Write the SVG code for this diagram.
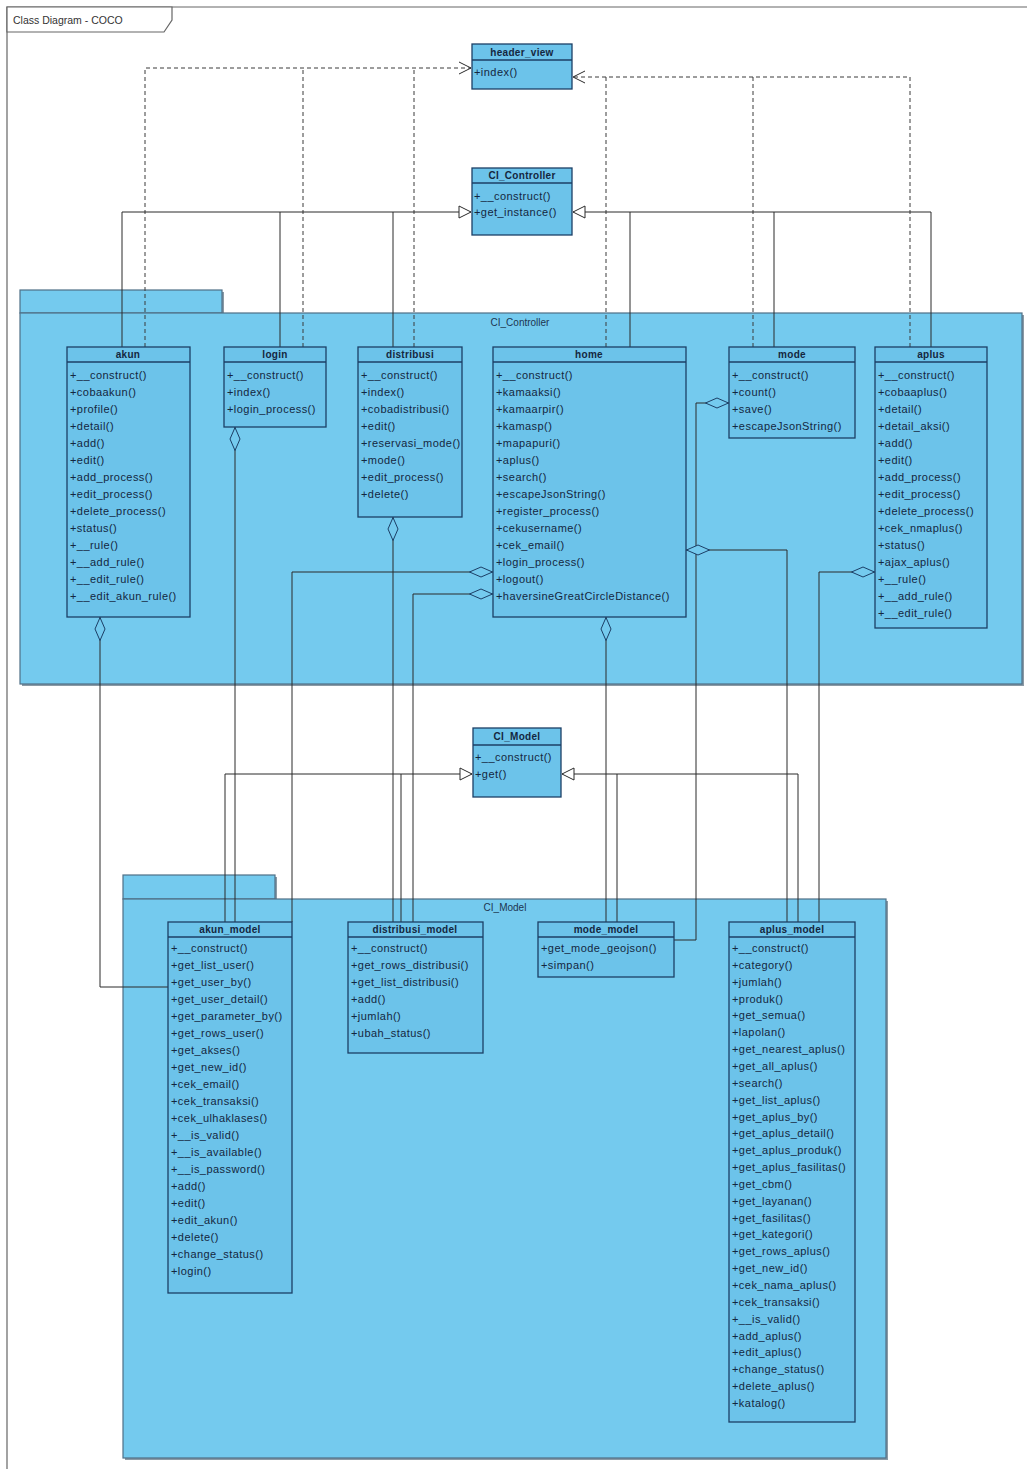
<svg xmlns="http://www.w3.org/2000/svg" width="1027" height="1469" viewBox="0 0 1027 1469">
<style>
  .pkg{fill:#74caee;stroke:#4f6f86;stroke-width:1.2}
  .pkgl{font-family:"Liberation Sans",Arial,sans-serif;font-size:10px;fill:#1d3550;text-anchor:middle}
  .cls{fill:#6cc3ea;stroke:#1c3f66;stroke-width:1.3}
  .sep{stroke:#1c3f66;stroke-width:1.3}
  .t{font-family:"Liberation Sans",Arial,sans-serif;font-size:10px;font-weight:bold;fill:#14273f;text-anchor:middle;letter-spacing:0.3px}
  .m{font-family:"Liberation Sans",Arial,sans-serif;font-size:11px;fill:#14273f;letter-spacing:0.45px}
  .c{fill:none;stroke:#2a2a2a;stroke-width:1}
  .d{fill:none;stroke:#3a3a3a;stroke-width:1;stroke-dasharray:4 3}
  .frame{fill:none;stroke:#666;stroke-width:1.2}
</style>
<defs>
  <marker id="gen" markerUnits="userSpaceOnUse" markerWidth="14" markerHeight="14" refX="13" refY="7" orient="auto">
    <path d="M1,1 L13,7 L1,13 Z" fill="#fff" stroke="#2a2a2a" stroke-width="1"/>
  </marker>
  <marker id="dep" markerUnits="userSpaceOnUse" markerWidth="14" markerHeight="14" refX="13" refY="7" orient="auto">
    <path d="M1,1 L13,7 L1,13" fill="none" stroke="#2a2a2a" stroke-width="1"/>
  </marker>
  <marker id="agg" markerUnits="userSpaceOnUse" markerWidth="26" markerHeight="12" refX="0" refY="6" orient="auto">
    <path d="M0.5,6 L12,1 L23.5,6 L12,11 Z" fill="#74caee" stroke="#1c3f66" stroke-width="1"/>
  </marker>
</defs>

<rect width="1027" height="1469" fill="#ffffff"/>

<!-- diagram frame -->
<g id="frame">
  <path class="frame" d="M7,1469 V7 H1027"/>
  <path d="M7,7 H172 V20 L164,32 H7 Z" fill="#fff" stroke="#666" stroke-width="1.2"/>
  <text x="13" y="24" font-family="Liberation Sans, Arial, sans-serif" font-size="10.5" fill="#333">Class Diagram - COCO</text>
</g>

<!-- packages -->
<g id="pkg-controller">
  <rect x="22" y="292" width="202" height="23" fill="#8a9aa5"/>
  <rect x="22" y="315" width="1002" height="371" fill="#8a9aa5"/>
  <rect class="pkg" x="20" y="290" width="202" height="23"/>
  <rect class="pkg" x="20" y="313" width="1002" height="371"/>
  <text class="pkgl" x="520" y="326">CI_Controller</text>
</g>
<g id="pkg-model">
  <rect x="125" y="877" width="152" height="24" fill="#8a9aa5"/>
  <rect x="125" y="901" width="763" height="559" fill="#8a9aa5"/>
  <rect class="pkg" x="123" y="875" width="152" height="24"/>
  <rect class="pkg" x="123" y="899" width="763" height="559"/>
  <text class="pkgl" x="505" y="911">CI_Model</text>
</g>

<!-- connectors -->
<g id="connectors">
  <!-- dependencies on header_view -->
  <path class="d" d="M145,347 V68 H471" marker-end="url(#dep)"/>
  <path class="d" d="M303,347 V68"/>
  <path class="d" d="M414,347 V68"/>
  <path class="d" d="M910,347 V77 H573" marker-end="url(#dep)"/>
  <path class="d" d="M606,347 V77"/>
  <path class="d" d="M753,347 V77"/>

  <!-- controllers extend CI_Controller -->
  <path class="c" d="M122,347 V212 H471" marker-end="url(#gen)"/>
  <path class="c" d="M280,347 V212"/>
  <path class="c" d="M393,347 V212"/>
  <path class="c" d="M931,347 V212 H573" marker-end="url(#gen)"/>
  <path class="c" d="M630,347 V212"/>
  <path class="c" d="M774,347 V212"/>

  <!-- models extend CI_Model -->
  <path class="c" d="M225,922 V774 H472" marker-end="url(#gen)"/>
  <path class="c" d="M401,922 V774"/>
  <path class="c" d="M798,922 V774 H562" marker-end="url(#gen)"/>
  <path class="c" d="M617,922 V774"/>

  <!-- aggregations controller -> model -->
  <path class="c" d="M100,617 V987 H168" marker-start="url(#agg)"/>
  <path class="c" d="M235,427 V922" marker-start="url(#agg)"/>
  <path class="c" d="M393,517 V922" marker-start="url(#agg)"/>
  <path class="c" d="M606,617 V922" marker-start="url(#agg)"/>
  <path class="c" d="M493,572 H292 V922" marker-start="url(#agg)"/>
  <path class="c" d="M493,594 H413 V922" marker-start="url(#agg)"/>
  <path class="c" d="M729,403 H696 V940 H674" marker-start="url(#agg)"/>
  <path class="c" d="M686,550 H787 V922" marker-start="url(#agg)"/>
  <path class="c" d="M875,572 H819 V922" marker-start="url(#agg)"/>
</g>

<!-- top-level classes -->
<g id="header_view">
  <rect class="cls" x="472" y="44" width="100" height="45"/>
  <line class="sep" x1="472" y1="60" x2="572" y2="60"/>
  <text class="t" x="522" y="56">header_view</text>
  <text class="m" x="474" y="76">+index()</text>
</g>
<g id="CI_Controller">
  <rect class="cls" x="472" y="168" width="100" height="67"/>
  <line class="sep" x1="472" y1="183" x2="572" y2="183"/>
  <text class="t" x="522" y="179">CI_Controller</text>
  <text class="m" x="474" y="200"><tspan x="474">+__construct()</tspan><tspan x="474" dy="16">+get_instance()</tspan></text>
</g>
<g id="CI_Model">
  <rect class="cls" x="473" y="728" width="88" height="69"/>
  <line class="sep" x1="473" y1="745" x2="561" y2="745"/>
  <text class="t" x="517" y="740">CI_Model</text>
  <text class="m" x="475" y="761"><tspan x="475">+__construct()</tspan><tspan x="475" dy="17">+get()</tspan></text>
</g>

<!-- controller classes -->
<g id="akun">
  <rect class="cls" x="67" y="347" width="123" height="270"/>
  <line class="sep" x1="67" y1="362" x2="190" y2="362"/>
  <text class="t" x="128" y="358">akun</text>
  <text class="m" y="379">
    <tspan x="70">+__construct()</tspan><tspan x="70" dy="17">+cobaakun()</tspan><tspan x="70" dy="17">+profile()</tspan><tspan x="70" dy="17">+detail()</tspan><tspan x="70" dy="17">+add()</tspan><tspan x="70" dy="17">+edit()</tspan><tspan x="70" dy="17">+add_process()</tspan><tspan x="70" dy="17">+edit_process()</tspan><tspan x="70" dy="17">+delete_process()</tspan><tspan x="70" dy="17">+status()</tspan><tspan x="70" dy="17">+__rule()</tspan><tspan x="70" dy="17">+__add_rule()</tspan><tspan x="70" dy="17">+__edit_rule()</tspan><tspan x="70" dy="17">+__edit_akun_rule()</tspan>
  </text>
</g>
<g id="login">
  <rect class="cls" x="224" y="347" width="102" height="80"/>
  <line class="sep" x1="224" y1="362" x2="326" y2="362"/>
  <text class="t" x="275" y="358">login</text>
  <text class="m" y="379">
    <tspan x="227">+__construct()</tspan><tspan x="227" dy="17">+index()</tspan><tspan x="227" dy="17">+login_process()</tspan>
  </text>
</g>
<g id="distribusi">
  <rect class="cls" x="358" y="347" width="104" height="170"/>
  <line class="sep" x1="358" y1="362" x2="462" y2="362"/>
  <text class="t" x="410" y="358">distribusi</text>
  <text class="m" y="379">
    <tspan x="361">+__construct()</tspan><tspan x="361" dy="17">+index()</tspan><tspan x="361" dy="17">+cobadistribusi()</tspan><tspan x="361" dy="17">+edit()</tspan><tspan x="361" dy="17">+reservasi_mode()</tspan><tspan x="361" dy="17">+mode()</tspan><tspan x="361" dy="17">+edit_process()</tspan><tspan x="361" dy="17">+delete()</tspan>
  </text>
</g>
<g id="home">
  <rect class="cls" x="493" y="347" width="193" height="270"/>
  <line class="sep" x1="493" y1="362" x2="686" y2="362"/>
  <text class="t" x="589" y="358">home</text>
  <text class="m" y="379">
    <tspan x="496">+__construct()</tspan><tspan x="496" dy="17">+kamaaksi()</tspan><tspan x="496" dy="17">+kamaarpir()</tspan><tspan x="496" dy="17">+kamasp()</tspan><tspan x="496" dy="17">+mapapuri()</tspan><tspan x="496" dy="17">+aplus()</tspan><tspan x="496" dy="17">+search()</tspan><tspan x="496" dy="17">+escapeJsonString()</tspan><tspan x="496" dy="17">+register_process()</tspan><tspan x="496" dy="17">+cekusername()</tspan><tspan x="496" dy="17">+cek_email()</tspan><tspan x="496" dy="17">+login_process()</tspan><tspan x="496" dy="17">+logout()</tspan><tspan x="496" dy="17">+haversineGreatCircleDistance()</tspan>
  </text>
</g>
<g id="mode">
  <rect class="cls" x="729" y="347" width="126" height="91"/>
  <line class="sep" x1="729" y1="362" x2="855" y2="362"/>
  <text class="t" x="792" y="358">mode</text>
  <text class="m" y="379">
    <tspan x="732">+__construct()</tspan><tspan x="732" dy="17">+count()</tspan><tspan x="732" dy="17">+save()</tspan><tspan x="732" dy="17">+escapeJsonString()</tspan>
  </text>
</g>
<g id="aplus">
  <rect class="cls" x="875" y="347" width="112" height="281"/>
  <line class="sep" x1="875" y1="362" x2="987" y2="362"/>
  <text class="t" x="931" y="358">aplus</text>
  <text class="m" y="379">
    <tspan x="878">+__construct()</tspan><tspan x="878" dy="17">+cobaaplus()</tspan><tspan x="878" dy="17">+detail()</tspan><tspan x="878" dy="17">+detail_aksi()</tspan><tspan x="878" dy="17">+add()</tspan><tspan x="878" dy="17">+edit()</tspan><tspan x="878" dy="17">+add_process()</tspan><tspan x="878" dy="17">+edit_process()</tspan><tspan x="878" dy="17">+delete_process()</tspan><tspan x="878" dy="17">+cek_nmaplus()</tspan><tspan x="878" dy="17">+status()</tspan><tspan x="878" dy="17">+ajax_aplus()</tspan><tspan x="878" dy="17">+__rule()</tspan><tspan x="878" dy="17">+__add_rule()</tspan><tspan x="878" dy="17">+__edit_rule()</tspan>
  </text>
</g>

<!-- model classes -->
<g id="akun_model">
  <rect class="cls" x="168" y="922" width="124" height="371"/>
  <line class="sep" x1="168" y1="937" x2="292" y2="937"/>
  <text class="t" x="230" y="933">akun_model</text>
  <text class="m" y="952">
    <tspan x="171">+__construct()</tspan><tspan x="171" dy="17">+get_list_user()</tspan><tspan x="171" dy="17">+get_user_by()</tspan><tspan x="171" dy="17">+get_user_detail()</tspan><tspan x="171" dy="17">+get_parameter_by()</tspan><tspan x="171" dy="17">+get_rows_user()</tspan><tspan x="171" dy="17">+get_akses()</tspan><tspan x="171" dy="17">+get_new_id()</tspan><tspan x="171" dy="17">+cek_email()</tspan><tspan x="171" dy="17">+cek_transaksi()</tspan><tspan x="171" dy="17">+cek_ulhaklases()</tspan><tspan x="171" dy="17">+__is_valid()</tspan><tspan x="171" dy="17">+__is_available()</tspan><tspan x="171" dy="17">+__is_password()</tspan><tspan x="171" dy="17">+add()</tspan><tspan x="171" dy="17">+edit()</tspan><tspan x="171" dy="17">+edit_akun()</tspan><tspan x="171" dy="17">+delete()</tspan><tspan x="171" dy="17">+change_status()</tspan><tspan x="171" dy="17">+login()</tspan>
  </text>
</g>
<g id="distribusi_model">
  <rect class="cls" x="348" y="922" width="135" height="131"/>
  <line class="sep" x1="348" y1="937" x2="483" y2="937"/>
  <text class="t" x="415" y="933">distribusi_model</text>
  <text class="m" y="952">
    <tspan x="351">+__construct()</tspan><tspan x="351" dy="17">+get_rows_distribusi()</tspan><tspan x="351" dy="17">+get_list_distribusi()</tspan><tspan x="351" dy="17">+add()</tspan><tspan x="351" dy="17">+jumlah()</tspan><tspan x="351" dy="17">+ubah_status()</tspan>
  </text>
</g>
<g id="mode_model">
  <rect class="cls" x="538" y="922" width="136" height="55"/>
  <line class="sep" x1="538" y1="937" x2="674" y2="937"/>
  <text class="t" x="606" y="933">mode_model</text>
  <text class="m" y="952">
    <tspan x="541">+get_mode_geojson()</tspan><tspan x="541" dy="17">+simpan()</tspan>
  </text>
</g>
<g id="aplus_model">
  <rect class="cls" x="729" y="922" width="126" height="500"/>
  <line class="sep" x1="729" y1="937" x2="855" y2="937"/>
  <text class="t" x="792" y="933">aplus_model</text>
  <text class="m" y="952">
    <tspan x="732">+__construct()</tspan><tspan x="732" dy="16.85">+category()</tspan><tspan x="732" dy="16.85">+jumlah()</tspan><tspan x="732" dy="16.85">+produk()</tspan><tspan x="732" dy="16.85">+get_semua()</tspan><tspan x="732" dy="16.85">+lapolan()</tspan><tspan x="732" dy="16.85">+get_nearest_aplus()</tspan><tspan x="732" dy="16.85">+get_all_aplus()</tspan><tspan x="732" dy="16.85">+search()</tspan><tspan x="732" dy="16.85">+get_list_aplus()</tspan><tspan x="732" dy="16.85">+get_aplus_by()</tspan><tspan x="732" dy="16.85">+get_aplus_detail()</tspan><tspan x="732" dy="16.85">+get_aplus_produk()</tspan><tspan x="732" dy="16.85">+get_aplus_fasilitas()</tspan><tspan x="732" dy="16.85">+get_cbm()</tspan><tspan x="732" dy="16.85">+get_layanan()</tspan><tspan x="732" dy="16.85">+get_fasilitas()</tspan><tspan x="732" dy="16.85">+get_kategori()</tspan><tspan x="732" dy="16.85">+get_rows_aplus()</tspan><tspan x="732" dy="16.85">+get_new_id()</tspan><tspan x="732" dy="16.85">+cek_nama_aplus()</tspan><tspan x="732" dy="16.85">+cek_transaksi()</tspan><tspan x="732" dy="16.85">+__is_valid()</tspan><tspan x="732" dy="16.85">+add_aplus()</tspan><tspan x="732" dy="16.85">+edit_aplus()</tspan><tspan x="732" dy="16.85">+change_status()</tspan><tspan x="732" dy="16.85">+delete_aplus()</tspan><tspan x="732" dy="16.85">+katalog()</tspan>
  </text>
</g>
</svg>
